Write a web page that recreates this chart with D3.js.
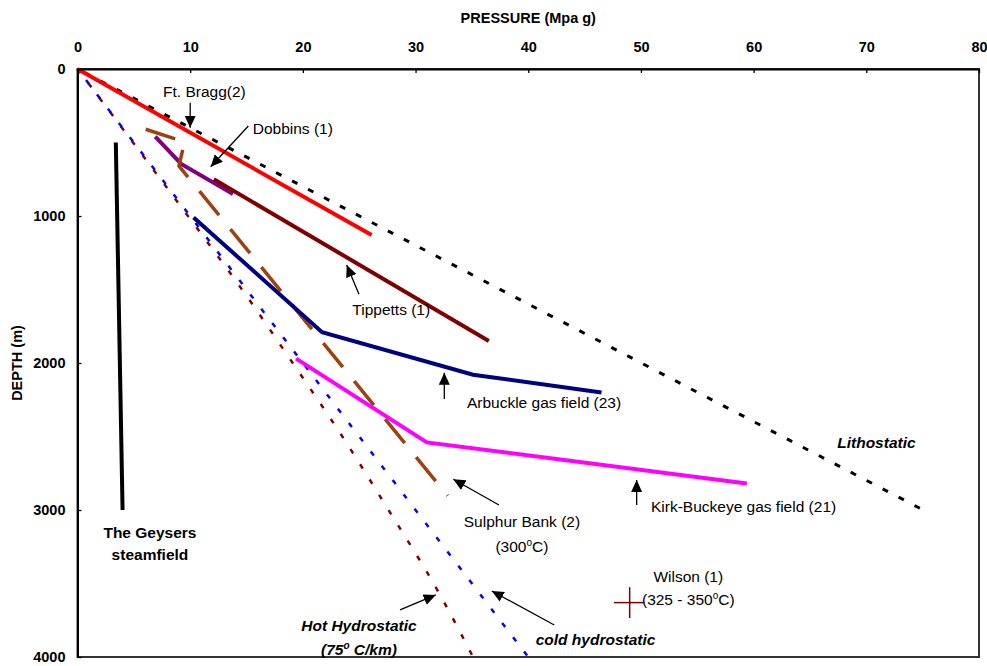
<!DOCTYPE html>
<html><head><meta charset="utf-8">
<script src="https://cdn.jsdelivr.net/npm/d3@7"></script>
<style>
body{margin:0;background:#fff}
svg{display:block}
text{font-family:"Liberation Sans",Arial,Helvetica,sans-serif}
</style>
</head><body>
<svg id="chart" width="987" height="666"></svg>
<script>
// ---------- data (pressure MPa, depth m) ----------
const xTicks = [0,10,20,30,40,50,60,70,80];
const yTicks = [0,1000,2000,3000,4000];

const lithostatic    = [[0,0],[74.8,2990]];
const coldHydrostatic= [[0,0],[10,1000],[20,2000],[30,3000],[40,4000]];
const hotHydrostatic = [[0,0],[9.8,1000],[14.6,1500],[19.1,2000],[23.5,2500],[27.6,3000],[31.6,3500],[35.1,4000]];
const geysers        = [[3.4,500],[4.0,3000]];
const ftBragg        = [[0,0],[26.1,1130]];
const dobbins        = [[6.9,460],[9.2,646],[13.8,850]];
const tippetts       = [[12.1,750],[36.5,1850]];
const arbuckle       = [[10.3,1010],[21.7,1790],[35.1,2080],[46.5,2200]];
const kirkBuckeye    = [[19.4,1970],[31.0,2540],[59.4,2820]];
const sulphurBank    = [[6.05,410],[9.5,497],[9.0,660],[32.85,2903]];
const wilsonP        = [47.6,49,50.3];     // min, centre, max pressure
const wilsonD        = [3525,3630,3735];   // min, centre, max depth

// annotation arrows: [tail, tip] in data units
const arrows = [
  [[10,230],[10,400]],
  [[15.16,388],[11.82,665]],
  [[24.98,1533],[23.89,1333]],
  [[32.55,2245],[32.55,2066]],
  [[49.62,2966],[49.62,2796]],
  [[37.4,2966],[33.35,2791]],
  [[28.62,3680],[31.79,3578]],
  [[42.31,3782],[36.76,3551]]
];

// labels: parts (s = superscript), anchor point in data units
const labels = [
  {parts:[["Ft. Bragg(2)"]], p:7.59, d:190, a:"start", w:"normal", i:"normal"},
  {parts:[["Dobbins (1)"]], p:15.55, d:439, a:"start", w:"normal", i:"normal"},
  {parts:[["Tippetts (1)"]], p:24.39, d:1673, a:"start", w:"normal", i:"normal"},
  {parts:[["Arbuckle gas field (23)"]], p:34.56, d:2306, a:"start", w:"normal", i:"normal"},
  {parts:[["Kirk-Buckeye gas field (21)"]], p:50.89, d:3014, a:"start", w:"normal", i:"normal"},
  {parts:[["Sulphur Bank (2)"]], p:39.44, d:3119, a:"middle", w:"normal", i:"normal"},
  {parts:[["(300"],["o","s"],["C)"]], p:39.44, d:3286, a:"middle", w:"normal", i:"normal"},
  {parts:[["Wilson (1)"]], p:54.2, d:3490, a:"middle", w:"normal", i:"normal"},
  {parts:[["(325 - 350"],["o","s"],["C)"]], p:54.2, d:3643, a:"middle", w:"normal", i:"normal"},
  {parts:[["The Geysers"]], p:6.43, d:3190, a:"middle", w:"bold", i:"normal"},
  {parts:[["steamfield"]], p:6.43, d:3337, a:"middle", w:"bold", i:"normal"},
  {parts:[["Hot Hydrostatic"]], p:24.98, d:3823, a:"middle", w:"bold", i:"italic"},
  {parts:[["(75"],["o","s"],[" C/km)"]], p:24.98, d:3986, a:"middle", w:"bold", i:"italic"},
  {parts:[["cold hydrostatic"]], p:40.66, d:3915, a:"start", w:"bold", i:"italic"},
  {parts:[["Lithostatic"]], p:67.42, d:2578, a:"start", w:"bold", i:"italic"}
];

// ---------- drawing ----------
const svg = d3.select("#chart");
const x = d3.scaleLinear().domain([0,80]).range([77.5,979]);
const y = d3.scaleLinear().domain([0,4000]).range([69,657]);

const defs = svg.append("defs");
defs.append("marker").attr("id","ah").attr("viewBox","0 -6 12 12")
  .attr("refX",12).attr("refY",0).attr("markerWidth",12).attr("markerHeight",12)
  .attr("markerUnits","userSpaceOnUse").attr("orient","auto")
  .append("path").attr("d","M0,-5.5L12,0L0,5.5Z").attr("fill","#000");

// frame
svg.append("rect").attr("x",x(0)).attr("y",y(0))
  .attr("width",x(80)-x(0)).attr("height",y(4000)-y(0))
  .attr("fill","none").attr("stroke","#333").attr("stroke-width",2);

const line = d3.line().x(d=>x(d[0])).y(d=>y(d[1]));
const curve = d3.line().x(d=>x(d[0])).y(d=>y(d[1])).curve(d3.curveMonotoneY);

function draw(data, color, width, dash, gen, offset){
  svg.append("path").datum(data).attr("d",(gen||line)(data))
    .attr("fill","none").attr("stroke",color).attr("stroke-width",width)
    .attr("stroke-dasharray",dash||null).attr("stroke-dashoffset",offset||0)
    .attr("stroke-linejoin","miter");
}

draw(hotHydrostatic,"#800000",2.5,"5,13",curve);
draw(coldHydrostatic,"#0000FF",2.5,"5,13",null,4);
draw(lithostatic,"#000",3,"6,12",null,-8);
draw(geysers,"#000",4);
draw(dobbins,"#800080",4);
draw(sulphurBank,"#A0400F",3.5,"31,18");
draw(ftBragg,"#FF0000",4);
draw(tippetts,"#800000",4);
draw(arbuckle,"#000080",4);
draw(kirkBuckeye,"#FF00FF",4);

// Wilson cross
svg.append("line").attr("x1",x(wilsonP[0])).attr("x2",x(wilsonP[2]))
  .attr("y1",y(wilsonD[1])).attr("y2",y(wilsonD[1])).attr("stroke","#800000").attr("stroke-width",1.5);
svg.append("line").attr("x1",x(wilsonP[1])).attr("x2",x(wilsonP[1]))
  .attr("y1",y(wilsonD[0])).attr("y2",y(wilsonD[2])).attr("stroke","#800000").attr("stroke-width",1.5);

// arrows
arrows.forEach(a=>{
  svg.append("line").attr("x1",x(a[0][0])).attr("y1",y(a[0][1]))
    .attr("x2",x(a[1][0])).attr("y2",y(a[1][1]))
    .attr("stroke","#000").attr("stroke-width",1.3).attr("marker-end","url(#ah)");
});

// labels
labels.forEach(l=>{
  const t = svg.append("text").attr("x",x(l.p)).attr("y",y(l.d))
    .attr("text-anchor",l.a).attr("font-size","15.5px")
    .attr("font-weight",l.w).attr("font-style",l.i).attr("fill","#000");
  let up=false;
  l.parts.forEach(p=>{
    const ts = t.append("tspan").text(p[0]);
    if(p[1]==="s"){ ts.attr("font-size","10px").attr("dy",-6); up=true; }
    else if(up){ ts.attr("dy",6); up=false; }
  });
});

// axes
const xAxis = svg.append("g").attr("transform",`translate(0,${y(0)})`)
  .call(d3.axisTop(x).tickValues(xTicks).tickFormat(d3.format("d"))
    .tickSizeInner(-4).tickSizeOuter(0).tickPadding(17));
const yAxis = svg.append("g").attr("transform",`translate(${x(0)},0)`)
  .call(d3.axisLeft(y).tickValues(yTicks).tickFormat(d3.format("d"))
    .tickSizeInner(-4).tickSizeOuter(0).tickPadding(12));
[xAxis,yAxis].forEach(g=>{
  g.select(".domain").attr("stroke","#000").attr("stroke-width",2);
  g.selectAll(".tick line").attr("stroke","#000").attr("stroke-width",1.3);
  g.selectAll(".tick text").attr("font-size","14.5px").attr("font-weight","bold")
    .attr("fill","#000").attr("font-family","'Liberation Sans',Arial,sans-serif");
});

// axis titles
svg.append("text").attr("x",(x(0)+x(80))/2).attr("y",23)
  .attr("text-anchor","middle").attr("font-size","14.5px").attr("font-weight","bold")
  .text("PRESSURE (Mpa g)");
svg.append("text").attr("transform",`translate(22,${(y(0)+y(4000))/2}) rotate(-90)`)
  .attr("text-anchor","middle").attr("font-size","14.5px").attr("font-weight","bold")
  .text("DEPTH (m)");
</script>
</body></html>
